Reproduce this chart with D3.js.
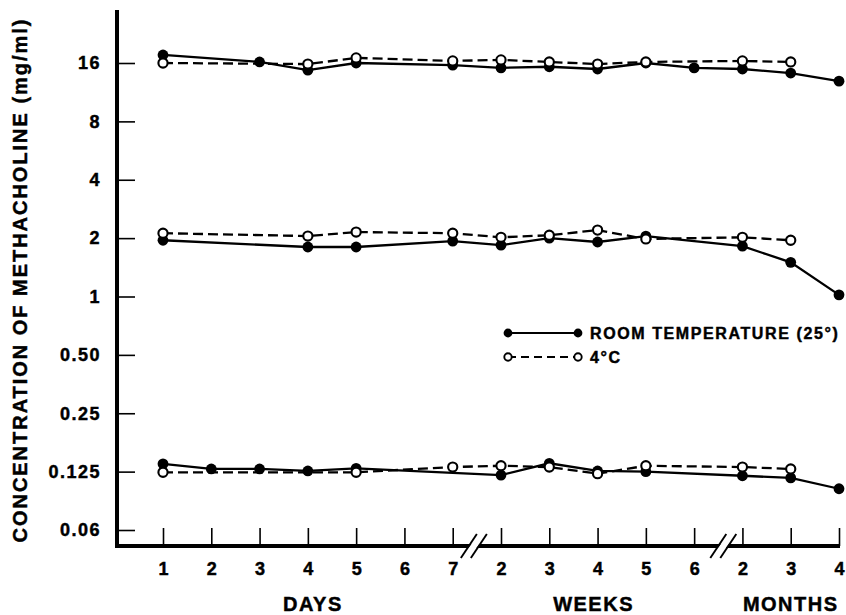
<!DOCTYPE html>
<html>
<head>
<meta charset="utf-8">
<script src="https://cdn.jsdelivr.net/npm/d3@7.9.0/dist/d3.min.js"></script>
<style>
  body { margin: 0; background: #fff; }
  text { font-family: "Liberation Sans", Arial, sans-serif; font-weight: bold; fill: #000;
         stroke: #000; stroke-width: 0.45px; }
</style>
</head>
<body>
<div id="chart"></div>
<script>
// time points along the x axis (days, weeks, months)
const timepoints = ['D1','D2','D3','D4','D5','D6','D7','W2','W3','W4','W5','W6','M2','M3','M4'];
const tickLabels = ['1','2','3','4','5','6','7','2','3','4','5','6','2','3','4'];
const yTicks = [0.0625, 0.125, 0.25, 0.5, 1, 2, 4, 8, 16];
const yTickLabels = ['0.06', '0.125', '0.25', '0.50', '1', '2', '4', '8', '16'];

// room temperature (filled) and 4°C (open), null = no point
const room16 = [17.6, null, 16.2, 14.7, 16.0, null, 15.6, 15.1, 15.3, 14.9, 16.0, 15.1, 14.9, 14.2, 12.9];
const cold16 = [16.0, null, null, 15.8, 17.0, null, 16.4, 16.6, 16.2, 15.8, 16.2, null, 16.4, 16.2, null];
const room2 = [1.95, null, null, 1.80, 1.80, null, 1.93, 1.84, 2.0, 1.91, 2.05, null, 1.82, 1.50, 1.02];
const cold2 = [2.12, null, null, 2.05, 2.15, null, 2.12, 2.02, 2.07, 2.2, 1.98, null, 2.02, 1.95, null];
const room0125 = [0.137, 0.129, 0.129, 0.126, 0.130, null, null, 0.120, 0.138, 0.126, 0.125, null, 0.119, 0.116, 0.102];
const cold0125 = [0.124, null, null, null, 0.124, null, 0.132, 0.134, 0.132, 0.122, 0.134, null, 0.132, 0.129, null];

const groupLabels = ['DAYS', 'WEEKS', 'MONTHS'];
const legendLabels = ['ROOM TEMPERATURE (25°)', '4°C'];

const width = 846, height = 615;
const axisX = 117, axisY = 546;

const svg = d3.select('#chart').append('svg')
  .attr('width', width).attr('height', height);
svg.append('rect').attr('width', width).attr('height', height).attr('fill', '#fff');

const x = d3.scalePoint().domain(timepoints).range([163, 839]);
const y = d3.scaleLog().base(2).domain([0.0625, 16]).range([530, 63]);

// y axis ticks + labels
const yAxis = svg.append('g').attr('transform', `translate(${axisX},0)`)
  .call(d3.axisLeft(y).tickValues(yTicks)
    .tickFormat((d, i) => yTickLabels[i])
    .tickSizeInner(-18).tickSizeOuter(0).tickPadding(16));
yAxis.select('.domain').remove();
yAxis.selectAll('line').attr('stroke', '#000').attr('stroke-width', 1.6);
yAxis.selectAll('text').attr('font-size', 18).style('letter-spacing', '1.5px')
  .attr('font-family', null);

// x axis ticks + labels
const xAxis = svg.append('g').attr('transform', `translate(0,${axisY})`)
  .call(d3.axisBottom(x).tickFormat((d, i) => tickLabels[i])
    .tickSizeInner(-18).tickSizeOuter(0).tickPadding(16));
xAxis.select('.domain').remove();
xAxis.selectAll('line').attr('stroke', '#000').attr('stroke-width', 1.6);
xAxis.selectAll('text').attr('font-size', 18).attr('font-family', null);

// thick axis lines
svg.append('line').attr('x1', axisX).attr('x2', axisX).attr('y1', 10).attr('y2', axisY + 2)
  .attr('stroke', '#000').attr('stroke-width', 4);
svg.append('line').attr('x1', axisX - 2).attr('x2', 840).attr('y1', axisY).attr('y2', axisY)
  .attr('stroke', '#000').attr('stroke-width', 4);

// axis breaks
[['D7', 'W2', -3], ['W6', 'M2', 5]].forEach(([a, b, off]) => {
  const mx = (x(a) + x(b)) / 2 + off;
  const g = svg.append('g');
  g.append('polygon')
    .attr('points', `${mx - 7},${axisY + 4} ${mx - 1},${axisY - 4} ${mx + 7},${axisY - 4} ${mx + 1},${axisY + 4}`)
    .attr('fill', '#fff');
  [-5, 5].forEach(dx => {
    g.append('line')
      .attr('x1', mx + dx - 8).attr('y1', axisY + 12)
      .attr('x2', mx + dx + 8).attr('y2', axisY - 12)
      .attr('stroke', '#000').attr('stroke-width', 1.9);
  });
});

// group titles
const groupCenters = [(x('D1') + x('D7')) / 2 + 5, (x('W2') + x('W6')) / 2 - 4, x('M3')];
svg.selectAll('text.group').data(groupLabels).join('text')
  .attr('class', 'group')
  .attr('x', (d, i) => groupCenters[i]).attr('y', 611)
  .attr('text-anchor', 'middle').attr('font-size', 20)
  .style('letter-spacing', '1.5px')
  .text(d => d);

// y title
svg.append('text')
  .attr('transform', 'translate(27,281) rotate(-90)')
  .attr('text-anchor', 'middle').attr('font-size', 20)
  .attr('textLength', 523).attr('lengthAdjust', 'spacing')
  .text('CONCENTRATION OF METHACHOLINE (mg/ml)');

// series
const series = [
  { values: room16, filled: true }, { values: room2, filled: true }, { values: room0125, filled: true },
  { values: cold16, filled: false }, { values: cold2, filled: false }, { values: cold0125, filled: false },
];

const line = d3.line().x(d => x(d.t)).y(d => y(d.v));

series.forEach(s => {
  const pts = s.values.map((v, i) => ({ t: timepoints[i], v })).filter(d => d.v != null);
  svg.append('path').datum(pts)
    .attr('d', line).attr('fill', 'none').attr('stroke', '#000')
    .attr('stroke-width', 2.3)
    .attr('stroke-dasharray', s.filled ? null : '10,5');
  svg.append('g').selectAll('circle').data(pts).join('circle')
    .attr('cx', d => x(d.t)).attr('cy', d => y(d.v))
    .attr('r', s.filled ? 5.4 : 4.6)
    .attr('fill', s.filled ? '#000' : '#fff')
    .attr('stroke', '#000').attr('stroke-width', s.filled ? 0 : 2.1);
});

// legend
const legend = svg.append('g');
legendLabels.forEach((label, i) => {
  const ly = 333 + i * 24;
  const filled = i === 0;
  legend.append('line').attr('x1', 508).attr('x2', 578).attr('y1', ly).attr('y2', ly)
    .attr('stroke', '#000').attr('stroke-width', 2.2)
    .attr('stroke-dasharray', filled ? null : '8,5');
  [508, 578].forEach(cx => legend.append('circle')
    .attr('cx', cx).attr('cy', ly).attr('r', filled ? 4.4 : 3.7)
    .attr('fill', filled ? '#000' : '#fff')
    .attr('stroke', '#000').attr('stroke-width', filled ? 0 : 1.9));
  legend.append('text').attr('x', 590).attr('y', ly + 6)
    .attr('font-size', 16).style('letter-spacing', '1.6px')
    .text(label);
});
</script>
</body>
</html>
